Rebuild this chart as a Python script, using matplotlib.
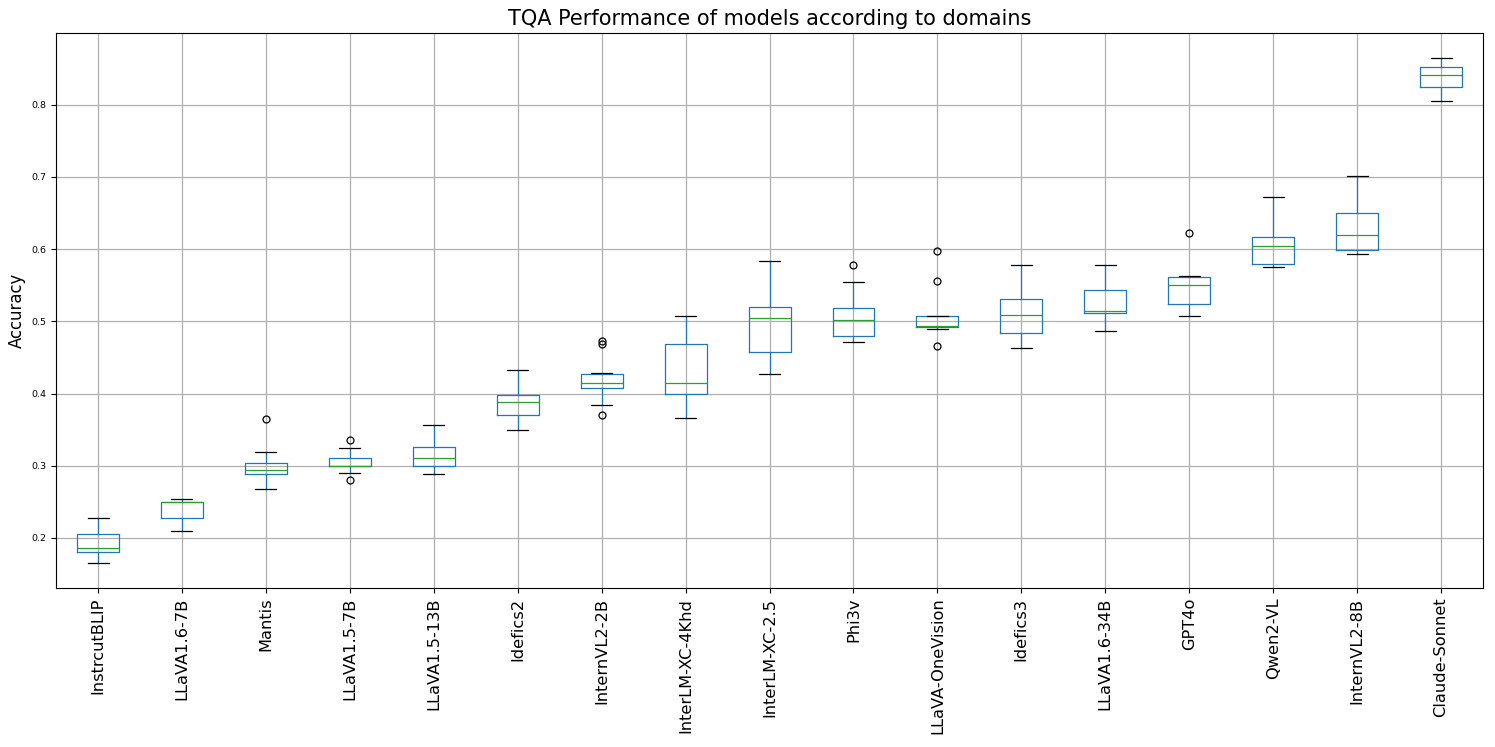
import matplotlib
matplotlib.use('Agg')
import matplotlib.pyplot as plt

## data (per-model accuracy over domains)
models = ['InstrcutBLIP', 'LLaVA1.6-7B', 'Mantis', 'LLaVA1.5-7B', 'LLaVA1.5-13B',
          'Idefics2', 'InternVL2-2B', 'InterLM-XC-4Khd', 'InterLM-XC-2.5', 'Phi3v',
          'LLaVA-OneVision', 'Idefics3', 'LLaVA1.6-34B', 'GPT4o', 'Qwen2-VL',
          'InternVL2-8B', 'Claude-Sonnet']
whislo = [0.165, 0.209, 0.268, 0.290, 0.289, 0.350, 0.384, 0.366, 0.427, 0.472,
          0.489, 0.463, 0.487, 0.507, 0.575, 0.593, 0.805]
q1 = [0.180, 0.227, 0.289, 0.299, 0.299, 0.370, 0.408, 0.399, 0.458, 0.480,
      0.492, 0.484, 0.511, 0.524, 0.579, 0.599, 0.825]
median = [0.186, 0.249, 0.294, 0.300, 0.311, 0.388, 0.415, 0.414, 0.504, 0.502,
          0.494, 0.509, 0.514, 0.550, 0.605, 0.619, 0.841]
q3 = [0.205, 0.249, 0.304, 0.310, 0.326, 0.398, 0.427, 0.468, 0.520, 0.519,
      0.507, 0.531, 0.543, 0.562, 0.617, 0.650, 0.853]
whishi = [0.228, 0.254, 0.319, 0.324, 0.356, 0.432, 0.428, 0.508, 0.583, 0.555,
          0.507, 0.578, 0.578, 0.563, 0.672, 0.701, 0.865]
fliers = [[], [], [0.364], [0.335, 0.280], [], [], [0.473, 0.469, 0.370], [], [],
          [0.578], [0.597, 0.556, 0.466], [], [], [0.623], [], [], []]

stats = []
for i, m in enumerate(models):
    stats.append({'label': m, 'whislo': whislo[i], 'q1': q1[i], 'med': median[i],
                  'q3': q3[i], 'whishi': whishi[i], 'fliers': fliers[i]})

## visualization
fig = plt.figure(figsize=(14.95, 7.47), dpi=100)
ax = fig.add_axes([0.0375, 0.2129, 0.9545, 0.7429])
ax.bxp(stats, positions=range(1, len(models) + 1), widths=0.5,
       boxprops=dict(color='#1f77b4', linewidth=0.9),
       whiskerprops=dict(color='#1f77b4', linewidth=0.9),
       medianprops=dict(color='#2ca02c', linewidth=0.9),
       capprops=dict(color='k', linewidth=0.9),
       flierprops=dict(marker='o', markersize=5, markeredgecolor='k',
                       markerfacecolor='none', markeredgewidth=0.9))
ax.grid(True, linewidth=0.9)
ax.set_axisbelow(True)
ax.set_ylim(0.1306, 0.8994)
ax.set_xlim(0.5, len(models) + 0.5)
ax.set_yticks([0.2, 0.3, 0.4, 0.5, 0.6, 0.7, 0.8])
ax.tick_params(axis='y', labelsize=6.8)
ax.tick_params(axis='x', labelsize=11.7, labelrotation=90)
ax.set_ylabel('Accuracy', fontsize=11.9)
ax.set_title('TQA Performance of models according to domains', fontsize=15)

plt.savefig('out.png', dpi=100)
